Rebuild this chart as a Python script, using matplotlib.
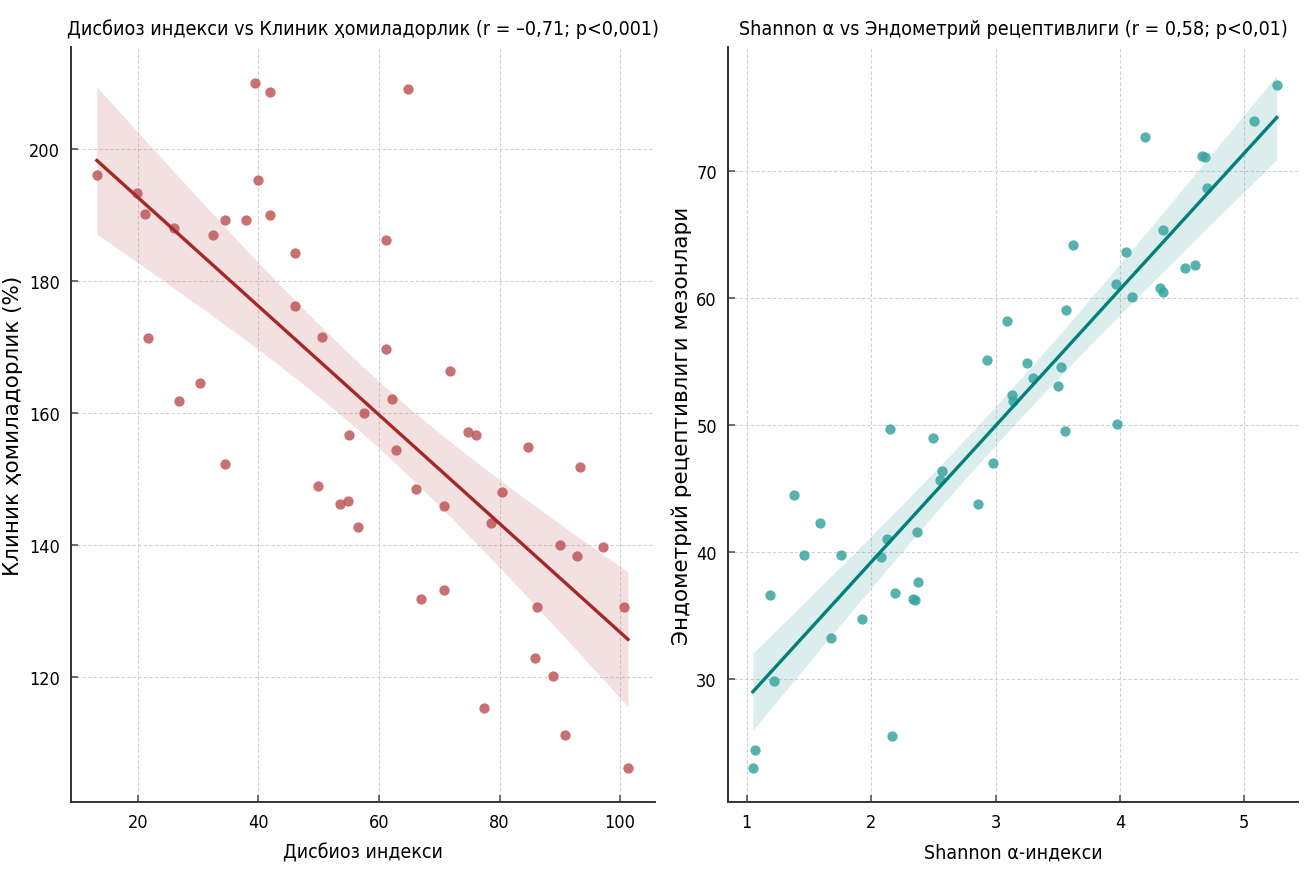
import numpy as np
import matplotlib
matplotlib.use("Agg")
import matplotlib.pyplot as plt

# left panel: dysbiosis index vs clinical pregnancy
dys_x = [13.2, 19.8, 21.2, 21.7, 26.0, 26.9, 30.3, 32.4, 34.5, 34.5,
         38.0, 39.4, 40.0, 42.0, 42.0, 46.1, 46.1, 49.8, 50.5, 53.6,
         54.8, 55.1, 56.5, 57.5, 61.2, 61.2, 62.1, 62.9, 64.8, 66.2,
         66.9, 70.8, 70.8, 71.7, 74.8, 76.1, 77.4, 78.6, 80.4, 84.7,
         85.9, 86.2, 88.8, 90.0, 90.9, 92.8, 93.3, 97.1, 100.7, 101.3]
preg_y = [196.1, 193.4, 190.2, 171.4, 188.0, 161.9, 164.6, 187.0, 189.2, 152.3,
          189.3, 210.0, 195.4, 208.7, 190.0, 184.3, 176.2, 149.0, 171.6, 146.2,
          146.7, 156.7, 142.7, 160.1, 186.2, 169.7, 162.1, 154.5, 209.1, 148.5,
          131.8, 146.0, 133.2, 166.4, 157.2, 156.7, 115.4, 143.4, 148.0, 154.9,
          122.9, 130.7, 120.2, 140.1, 111.3, 138.4, 151.9, 139.7, 130.6, 106.2]

# right panel: Shannon alpha vs endometrial receptivity
shan_x = [1.05, 1.07, 1.19, 1.22, 1.38, 1.46, 1.59, 1.68, 1.76, 1.93,
          2.08, 2.13, 2.15, 2.17, 2.19, 2.34, 2.35, 2.37, 2.38, 2.50,
          2.55, 2.57, 2.86, 2.93, 2.98, 3.09, 3.13, 3.14, 3.25, 3.30,
          3.50, 3.53, 3.56, 3.57, 3.62, 3.97, 3.98, 4.05, 4.10, 4.20,
          4.32, 4.35, 4.35, 4.52, 4.60, 4.66, 4.68, 4.70, 5.08, 5.26]
recep_y = [23.0, 24.4, 36.6, 29.8, 44.5, 39.8, 42.3, 33.2, 39.8, 34.7,
           39.6, 41.0, 49.7, 25.5, 36.8, 36.3, 36.2, 41.6, 37.6, 49.0,
           45.7, 46.4, 43.8, 55.1, 47.0, 58.2, 52.4, 51.9, 54.9, 53.7,
           53.1, 54.6, 49.5, 59.1, 64.2, 61.1, 50.1, 63.6, 60.1, 72.7,
           60.8, 60.5, 65.4, 62.4, 62.6, 71.2, 71.1, 68.7, 74.0, 76.8]

narrow = dict(family="DejaVu Sans", fontstretch="condensed")


def reg_panel(ax, x, y, pt_color, line_color):
    x = np.asarray(x)
    y = np.asarray(y)
    n = len(x)
    b, a = np.polyfit(x, y, 1)
    xs = np.linspace(x.min(), x.max(), 100)
    yh = a + b * xs
    resid = y - (a + b * x)
    s = np.sqrt(np.sum(resid ** 2) / (n - 2))
    se = s * np.sqrt(1 / n + (xs - x.mean()) ** 2 / np.sum((x - x.mean()) ** 2))
    ax.fill_between(xs, yh - 2.01 * se, yh + 2.01 * se, color=pt_color,
                    alpha=0.18, lw=0, zorder=2)
    ax.scatter(x, y, s=55, color=pt_color, alpha=0.85, lw=0, zorder=3)
    ax.plot(xs, yh, color=line_color, lw=2.4, zorder=4)


fig = plt.figure(figsize=(13.04, 8.79), dpi=100)
ax1 = fig.add_axes([0.0544, 0.0865, 0.448, 0.859])
ax2 = fig.add_axes([0.5583, 0.0865, 0.437, 0.859])

reg_panel(ax1, dys_x, preg_y, "#c0575a", "#a52727")
reg_panel(ax2, shan_x, recep_y, "#3aa5a0", "#00807a")

ax1.set_xlim(8.9, 105.8)
ax1.set_ylim(101.1, 215.5)
ax1.set_xticks([20, 40, 60, 80, 100])
ax1.set_yticks([120, 140, 160, 180, 200])
ax2.set_xlim(0.85, 5.43)
ax2.set_ylim(20.3, 79.8)
ax2.set_xticks([1, 2, 3, 4, 5])
ax2.set_yticks([30, 40, 50, 60, 70])

ax1.set_title("Дисбиоз индекси vs Клиник ҳомиладорлик (r = –0,71; p<0,001)",
              fontsize=14.1, pad=9, **narrow)
ax2.set_title("Shannon α vs Эндометрий рецептивлиги (r = 0,58; p<0,01)",
              fontsize=14.1, pad=9, **narrow)
ax1.set_xlabel("Дисбиоз индекси", fontsize=14, labelpad=8, **narrow)
ax2.set_xlabel("Shannon α-индекси", fontsize=14, labelpad=8, **narrow)
ax1.set_ylabel("Клиник ҳомиладорлик (%)", fontsize=15.5, labelpad=4)
ax2.set_ylabel("Эндометрий рецептивлиги мезонлари", fontsize=15.5, labelpad=3)

for ax in (ax1, ax2):
    ax.grid(True, ls=(0, (3, 2)), color="#d0d0d0", lw=0.8, zorder=0)
    ax.set_axisbelow(True)
    for side in ("top", "right"):
        ax.spines[side].set_visible(False)
    for side in ("left", "bottom"):
        ax.spines[side].set_color("#333333")
        ax.spines[side].set_linewidth(1.4)
    ax.tick_params(direction="in", length=5, width=1.2, color="#555555",
                   labelsize=13, pad=8)
    for lab in ax.get_xticklabels() + ax.get_yticklabels():
        lab.set_fontstretch("condensed")

fig.savefig("out.png", dpi=100)
